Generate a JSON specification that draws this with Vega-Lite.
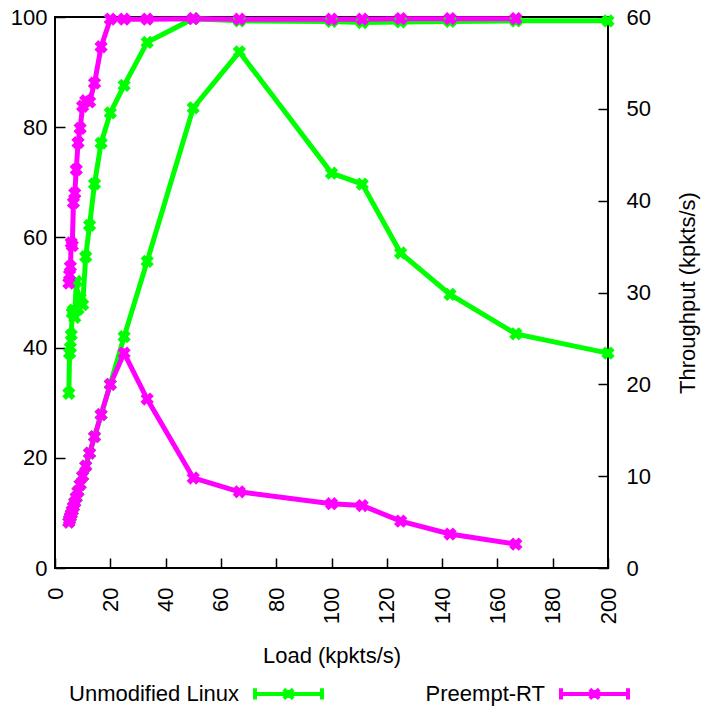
{
  "$schema": "https://vega.github.io/schema/vega-lite/v6.json",
  "width": 553,
  "height": 551,
  "autosize": {"type": "none"},
  "padding": {"left": 55, "top": 17, "right": 93, "bottom": 142},
  "background": "white",
  "config": {
    "font": "Liberation Sans",
    "view": {"stroke": "black", "strokeWidth": 2},
    "axis": {
      "grid": false,
      "domain": false,
      "ticks": true,
      "tickSize": -10,
      "tickColor": "black",
      "tickWidth": 1.5,
      "labelFontSize": 22,
      "labelColor": "black",
      "titleFontSize": 22,
      "titleFontWeight": "normal",
      "titleColor": "black"
    },
    "legend": {
      "orient": "none",
      "legendX": 198,
      "legendY": 641,
      "direction": "horizontal",
      "symbolType": "M-1,0L1,0M-1,-0.17L-1,0.17M1,-0.17L1,0.17M-0.14,-0.14L0.14,0.14M-0.14,0.14L0.14,-0.14M-0.05,-0.12L-0.05,0.12M0.05,-0.12L0.05,0.12",
      "symbolSize": 4489,
      "symbolStrokeWidth": 4,
      "labelFontSize": 22,
      "labelColor": "black",
      "labelAlign": "right",
      "labelOffset": -85,
      "labelLimit": 400,
      "columnPadding": 95
    }
  },
  "datasets": {
    "pts": [
      {"load": 5, "series": "Unmodified Linux", "metric": "pct", "v": 31.7},
      {"load": 5.26, "series": "Unmodified Linux", "metric": "pct", "v": 39.0},
      {"load": 5.56, "series": "Unmodified Linux", "metric": "pct", "v": 40.0},
      {"load": 5.88, "series": "Unmodified Linux", "metric": "pct", "v": 42.3},
      {"load": 6.25, "series": "Unmodified Linux", "metric": "pct", "v": 46.3},
      {"load": 6.67, "series": "Unmodified Linux", "metric": "pct", "v": 46.8},
      {"load": 7.14, "series": "Unmodified Linux", "metric": "pct", "v": 45.5},
      {"load": 7.69, "series": "Unmodified Linux", "metric": "pct", "v": 52.0},
      {"load": 8.33, "series": "Unmodified Linux", "metric": "pct", "v": 47.0},
      {"load": 9.09, "series": "Unmodified Linux", "metric": "pct", "v": 49.0},
      {"load": 10, "series": "Unmodified Linux", "metric": "pct", "v": 47.8},
      {"load": 11.11, "series": "Unmodified Linux", "metric": "pct", "v": 56.5},
      {"load": 12.5, "series": "Unmodified Linux", "metric": "pct", "v": 62.2},
      {"load": 14.29, "series": "Unmodified Linux", "metric": "pct", "v": 69.7},
      {"load": 16.67, "series": "Unmodified Linux", "metric": "pct", "v": 77.1},
      {"load": 20, "series": "Unmodified Linux", "metric": "pct", "v": 82.6},
      {"load": 25, "series": "Unmodified Linux", "metric": "pct", "v": 87.6},
      {"load": 33.33, "series": "Unmodified Linux", "metric": "pct", "v": 95.4},
      {"load": 50, "series": "Unmodified Linux", "metric": "pct", "v": 99.7},
      {"load": 66.67, "series": "Unmodified Linux", "metric": "pct", "v": 99.3},
      {"load": 100, "series": "Unmodified Linux", "metric": "pct", "v": 99.2},
      {"load": 111.11, "series": "Unmodified Linux", "metric": "pct", "v": 99.0},
      {"load": 125, "series": "Unmodified Linux", "metric": "pct", "v": 99.1},
      {"load": 142.86, "series": "Unmodified Linux", "metric": "pct", "v": 99.2},
      {"load": 166.67, "series": "Unmodified Linux", "metric": "pct", "v": 99.3},
      {"load": 200, "series": "Unmodified Linux", "metric": "pct", "v": 99.3},
      {"load": 5, "series": "Unmodified Linux", "metric": "tput", "v": 5.0},
      {"load": 5.26, "series": "Unmodified Linux", "metric": "tput", "v": 5.26},
      {"load": 5.56, "series": "Unmodified Linux", "metric": "tput", "v": 5.56},
      {"load": 5.88, "series": "Unmodified Linux", "metric": "tput", "v": 5.88},
      {"load": 6.25, "series": "Unmodified Linux", "metric": "tput", "v": 6.25},
      {"load": 6.67, "series": "Unmodified Linux", "metric": "tput", "v": 6.67},
      {"load": 7.14, "series": "Unmodified Linux", "metric": "tput", "v": 7.14},
      {"load": 7.69, "series": "Unmodified Linux", "metric": "tput", "v": 7.69},
      {"load": 8.33, "series": "Unmodified Linux", "metric": "tput", "v": 8.33},
      {"load": 9.09, "series": "Unmodified Linux", "metric": "tput", "v": 9.09},
      {"load": 10, "series": "Unmodified Linux", "metric": "tput", "v": 10.0},
      {"load": 11.11, "series": "Unmodified Linux", "metric": "tput", "v": 11.1},
      {"load": 12.5, "series": "Unmodified Linux", "metric": "tput", "v": 12.5},
      {"load": 14.29, "series": "Unmodified Linux", "metric": "tput", "v": 14.3},
      {"load": 16.67, "series": "Unmodified Linux", "metric": "tput", "v": 16.7},
      {"load": 20, "series": "Unmodified Linux", "metric": "tput", "v": 20.0},
      {"load": 25, "series": "Unmodified Linux", "metric": "tput", "v": 25.2},
      {"load": 33.33, "series": "Unmodified Linux", "metric": "tput", "v": 33.4},
      {"load": 50, "series": "Unmodified Linux", "metric": "tput", "v": 50.1},
      {"load": 66.67, "series": "Unmodified Linux", "metric": "tput", "v": 56.2},
      {"load": 100, "series": "Unmodified Linux", "metric": "tput", "v": 43.0},
      {"load": 111.11, "series": "Unmodified Linux", "metric": "tput", "v": 41.8},
      {"load": 125, "series": "Unmodified Linux", "metric": "tput", "v": 34.3},
      {"load": 142.86, "series": "Unmodified Linux", "metric": "tput", "v": 29.8},
      {"load": 166.67, "series": "Unmodified Linux", "metric": "tput", "v": 25.5},
      {"load": 200, "series": "Unmodified Linux", "metric": "tput", "v": 23.4},
      {"load": 5, "series": "Preempt-RT", "metric": "pct", "v": 51.7},
      {"load": 5.26, "series": "Preempt-RT", "metric": "pct", "v": 53.2},
      {"load": 5.56, "series": "Preempt-RT", "metric": "pct", "v": 54.7},
      {"load": 5.88, "series": "Preempt-RT", "metric": "pct", "v": 59.0},
      {"load": 6.25, "series": "Preempt-RT", "metric": "pct", "v": 58.5},
      {"load": 6.67, "series": "Preempt-RT", "metric": "pct", "v": 66.3},
      {"load": 7.14, "series": "Preempt-RT", "metric": "pct", "v": 68.0},
      {"load": 7.69, "series": "Preempt-RT", "metric": "pct", "v": 72.3},
      {"load": 8.33, "series": "Preempt-RT", "metric": "pct", "v": 77.2},
      {"load": 9.09, "series": "Preempt-RT", "metric": "pct", "v": 79.8},
      {"load": 10, "series": "Preempt-RT", "metric": "pct", "v": 83.8},
      {"load": 11.11, "series": "Preempt-RT", "metric": "pct", "v": 84.8},
      {"load": 12.5, "series": "Preempt-RT", "metric": "pct", "v": 84.6},
      {"load": 14.29, "series": "Preempt-RT", "metric": "pct", "v": 88.0},
      {"load": 16.67, "series": "Preempt-RT", "metric": "pct", "v": 94.6},
      {"load": 20, "series": "Preempt-RT", "metric": "pct", "v": 99.6},
      {"load": 25, "series": "Preempt-RT", "metric": "pct", "v": 99.6},
      {"load": 33.33, "series": "Preempt-RT", "metric": "pct", "v": 99.6},
      {"load": 50, "series": "Preempt-RT", "metric": "pct", "v": 99.7},
      {"load": 66.67, "series": "Preempt-RT", "metric": "pct", "v": 99.6},
      {"load": 100, "series": "Preempt-RT", "metric": "pct", "v": 99.6},
      {"load": 111.11, "series": "Preempt-RT", "metric": "pct", "v": 99.6},
      {"load": 125, "series": "Preempt-RT", "metric": "pct", "v": 99.7},
      {"load": 142.86, "series": "Preempt-RT", "metric": "pct", "v": 99.7},
      {"load": 166.67, "series": "Preempt-RT", "metric": "pct", "v": 99.7},
      {"load": 5, "series": "Preempt-RT", "metric": "tput", "v": 5.0},
      {"load": 5.26, "series": "Preempt-RT", "metric": "tput", "v": 5.26},
      {"load": 5.56, "series": "Preempt-RT", "metric": "tput", "v": 5.56},
      {"load": 5.88, "series": "Preempt-RT", "metric": "tput", "v": 5.88},
      {"load": 6.25, "series": "Preempt-RT", "metric": "tput", "v": 6.25},
      {"load": 6.67, "series": "Preempt-RT", "metric": "tput", "v": 6.67},
      {"load": 7.14, "series": "Preempt-RT", "metric": "tput", "v": 7.14},
      {"load": 7.69, "series": "Preempt-RT", "metric": "tput", "v": 7.69},
      {"load": 8.33, "series": "Preempt-RT", "metric": "tput", "v": 8.33},
      {"load": 9.09, "series": "Preempt-RT", "metric": "tput", "v": 9.09},
      {"load": 10, "series": "Preempt-RT", "metric": "tput", "v": 10.0},
      {"load": 11.11, "series": "Preempt-RT", "metric": "tput", "v": 11.1},
      {"load": 12.5, "series": "Preempt-RT", "metric": "tput", "v": 12.5},
      {"load": 14.29, "series": "Preempt-RT", "metric": "tput", "v": 14.3},
      {"load": 16.67, "series": "Preempt-RT", "metric": "tput", "v": 16.7},
      {"load": 20, "series": "Preempt-RT", "metric": "tput", "v": 20.0},
      {"load": 25, "series": "Preempt-RT", "metric": "tput", "v": 23.4},
      {"load": 33.33, "series": "Preempt-RT", "metric": "tput", "v": 18.4},
      {"load": 50, "series": "Preempt-RT", "metric": "tput", "v": 9.8},
      {"load": 66.67, "series": "Preempt-RT", "metric": "tput", "v": 8.3},
      {"load": 100, "series": "Preempt-RT", "metric": "tput", "v": 7.0},
      {"load": 111.11, "series": "Preempt-RT", "metric": "tput", "v": 6.8},
      {"load": 125, "series": "Preempt-RT", "metric": "tput", "v": 5.1},
      {"load": 142.86, "series": "Preempt-RT", "metric": "tput", "v": 3.7},
      {"load": 166.67, "series": "Preempt-RT", "metric": "tput", "v": 2.6}
    ]
  },
  "data": {"name": "pts"},
  "encoding": {
    "x": {
      "field": "load",
      "type": "quantitative",
      "scale": {"domain": [0, 200], "nice": false},
      "axis": {
        "values": [0, 20, 40, 60, 80, 100, 120, 140, 160, 180, 200],
        "labelAngle": 270,
        "labelPadding": 29,
        "title": "Load (kpkts/s)",
        "titlePadding": 22
      }
    }
  },
  "layer": [
    {
      "transform": [{"filter": "datum.metric === 'pct'"}],
      "encoding": {
        "y": {
          "field": "v",
          "type": "quantitative",
          "scale": {"domain": [0, 100], "nice": false},
          "axis": {"orient": "left", "values": [0, 20, 40, 60, 80, 100], "labelPadding": 18, "title": null}
        }
      },
      "layer": [
        {
          "mark": {"type": "line", "strokeWidth": 5},
          "encoding": {
            "color": {
              "field": "series",
              "type": "nominal",
              "scale": {"domain": ["Unmodified Linux", "Preempt-RT"], "range": ["#00ff00", "#ff00ff"]},
              "legend": {"title": null}
            }
          }
        },
        {
          "mark": {"type": "point", "filled": true, "shape": "cross", "angle": 45, "size": 180, "opacity": 1},
          "encoding": {
            "color": {"field": "series", "type": "nominal", "legend": null}
          }
        }
      ]
    },
    {
      "transform": [{"filter": "datum.metric === 'tput'"}],
      "encoding": {
        "y": {
          "field": "v",
          "type": "quantitative",
          "scale": {"domain": [0, 60], "nice": false},
          "axis": {
            "orient": "right",
            "values": [0, 10, 20, 30, 40, 50, 60],
            "labelPadding": 28,
            "title": "Throughput (kpkts/s)",
            "titleAngle": 270,
            "titlePadding": 49
          }
        }
      },
      "layer": [
        {
          "mark": {"type": "line", "strokeWidth": 5},
          "encoding": {
            "color": {"field": "series", "type": "nominal", "legend": {"title": null}}
          }
        },
        {
          "mark": {"type": "point", "filled": true, "shape": "cross", "angle": 45, "size": 180, "opacity": 1},
          "encoding": {
            "color": {"field": "series", "type": "nominal", "legend": null}
          }
        }
      ]
    }
  ],
  "resolve": {"scale": {"y": "independent"}}
}
